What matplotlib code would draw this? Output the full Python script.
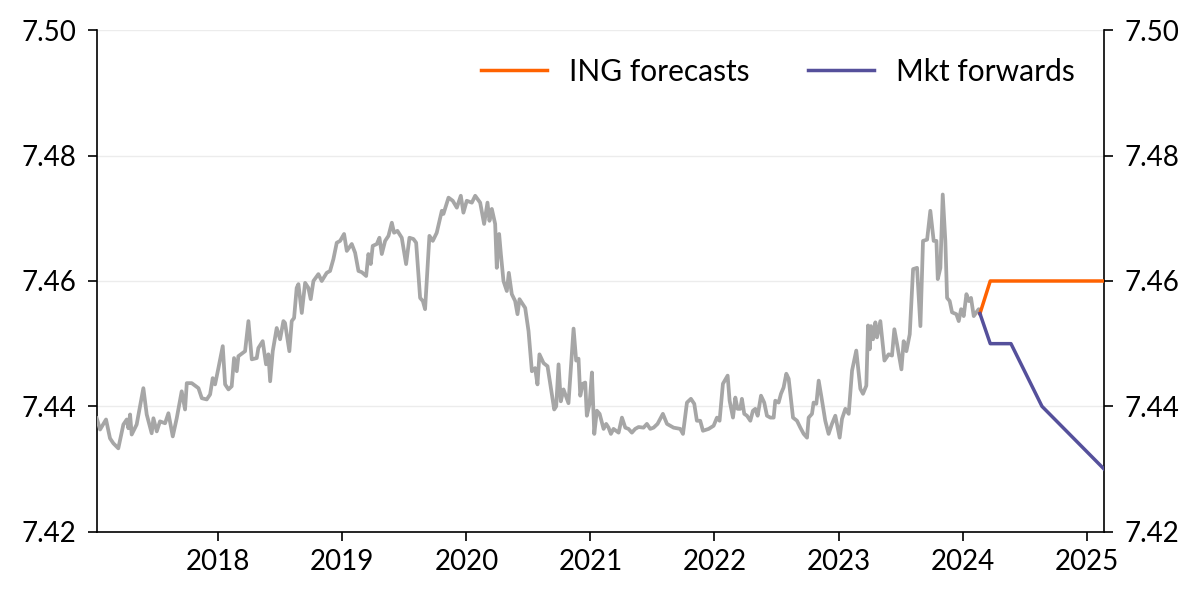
import numpy as np
import matplotlib.pyplot as plt

plt.rcParams['font.family'] = ['Lato', 'DejaVu Sans']

# EUR/DKK spot history (decimal years, weekly-ish readings)
hist_dates = [
    2017.020, 2017.047, 2017.095, 2017.127, 2017.154, 2017.194, 2017.235, 2017.262, 2017.275, 2017.289,
    2017.302, 2017.342, 2017.396, 2017.423, 2017.463, 2017.477, 2017.504, 2017.530, 2017.571, 2017.598,
    2017.633, 2017.665, 2017.705, 2017.732, 2017.746, 2017.786, 2017.840, 2017.867, 2017.907, 2017.934,
    2017.955, 2017.974, 2018.001, 2018.036, 2018.055, 2018.082, 2018.108, 2018.127, 2018.149, 2018.162,
    2018.216, 2018.243, 2018.270, 2018.310, 2018.323, 2018.358, 2018.385, 2018.404, 2018.418, 2018.439,
    2018.471, 2018.498, 2018.525, 2018.538, 2018.573, 2018.592, 2018.611, 2018.632, 2018.646, 2018.673,
    2018.700, 2018.726, 2018.745, 2018.767, 2018.807, 2018.834, 2018.874, 2018.901, 2018.928, 2018.955,
    2018.982, 2019.014, 2019.036, 2019.076, 2019.103, 2019.130, 2019.157, 2019.192, 2019.210, 2019.229,
    2019.245, 2019.278, 2019.299, 2019.318, 2019.345, 2019.372, 2019.399, 2019.417, 2019.444, 2019.479,
    2019.514, 2019.541, 2019.573, 2019.595, 2019.627, 2019.649, 2019.667, 2019.702, 2019.729, 2019.761,
    2019.802, 2019.815, 2019.856, 2019.890, 2019.923, 2019.955, 2019.976, 2020.003, 2020.044, 2020.071,
    2020.111, 2020.143, 2020.170, 2020.186, 2020.205, 2020.232, 2020.245, 2020.264, 2020.278, 2020.299,
    2020.326, 2020.342, 2020.366, 2020.393, 2020.412, 2020.428, 2020.474, 2020.501, 2020.528, 2020.554,
    2020.573, 2020.589, 2020.622, 2020.654, 2020.681, 2020.708, 2020.724, 2020.743, 2020.761, 2020.783,
    2020.823, 2020.864, 2020.885, 2020.904, 2020.918, 2020.939, 2020.958, 2020.971, 2020.993, 2021.012,
    2021.031, 2021.052, 2021.074, 2021.106, 2021.127, 2021.146, 2021.165, 2021.186, 2021.227, 2021.254,
    2021.281, 2021.307, 2021.334, 2021.361, 2021.388, 2021.428, 2021.455, 2021.482, 2021.509, 2021.541,
    2021.584, 2021.617, 2021.670, 2021.724, 2021.746, 2021.778, 2021.810, 2021.837, 2021.858, 2021.885,
    2021.907, 2021.953, 2021.993, 2022.020, 2022.041, 2022.068, 2022.106, 2022.122, 2022.149, 2022.168,
    2022.186, 2022.208, 2022.221, 2022.240, 2022.262, 2022.289, 2022.310, 2022.329, 2022.348, 2022.375,
    2022.401, 2022.423, 2022.450, 2022.477, 2022.490, 2022.517, 2022.536, 2022.557, 2022.579, 2022.598,
    2022.633, 2022.665, 2022.692, 2022.719, 2022.746, 2022.759, 2022.786, 2022.799, 2022.821, 2022.840,
    2022.867, 2022.893, 2022.920, 2022.947, 2022.974, 2023.009, 2023.028, 2023.055, 2023.082, 2023.109,
    2023.143, 2023.176, 2023.197, 2023.224, 2023.238, 2023.251, 2023.262, 2023.278, 2023.297, 2023.310,
    2023.337, 2023.370, 2023.404, 2023.431, 2023.450, 2023.472, 2023.507, 2023.525, 2023.547, 2023.574,
    2023.601, 2023.633, 2023.660, 2023.681, 2023.714, 2023.740, 2023.767, 2023.789, 2023.800, 2023.821,
    2023.840, 2023.861, 2023.875, 2023.896, 2023.915, 2023.950, 2023.969, 2023.988, 2024.009, 2024.031,
    2024.050, 2024.068, 2024.090, 2024.111, 2024.130, 2024.140,
]
hist_values = [
    7.4381, 7.4363, 7.4379, 7.4349, 7.4341, 7.4333, 7.4371, 7.4379, 7.4365, 7.4387,
    7.4355, 7.4371, 7.4429, 7.4387, 7.4357, 7.4381, 7.4360, 7.4376, 7.4373, 7.4389,
    7.4352, 7.4381, 7.4424, 7.4395, 7.4437, 7.4437, 7.4429, 7.4413, 7.4411, 7.4419,
    7.4445, 7.4435, 7.4461, 7.4496, 7.4435, 7.4427, 7.4432, 7.4477, 7.4456, 7.4480,
    7.4488, 7.4536, 7.4475, 7.4477, 7.4493, 7.4504, 7.4467, 7.4483, 7.4440, 7.4488,
    7.4525, 7.4507, 7.4536, 7.4533, 7.4488, 7.4536, 7.4541, 7.4589, 7.4595, 7.4549,
    7.4597, 7.4589, 7.4571, 7.4600, 7.4611, 7.4600, 7.4613, 7.4616, 7.4635, 7.4661,
    7.4664, 7.4675, 7.4648, 7.4659, 7.4645, 7.4616, 7.4614, 7.4608, 7.4643, 7.4627,
    7.4656, 7.4659, 7.4669, 7.4643, 7.4664, 7.4672, 7.4693, 7.4677, 7.4680, 7.4669,
    7.4627, 7.4669, 7.4667, 7.4661, 7.4573, 7.4568, 7.4555, 7.4672, 7.4664, 7.4677,
    7.4712, 7.4707, 7.4733, 7.4728, 7.4717, 7.4736, 7.4709, 7.4728, 7.4725, 7.4736,
    7.4725, 7.4691, 7.4725, 7.4696, 7.4715, 7.4691, 7.4621, 7.4675, 7.4643, 7.4600,
    7.4584, 7.4613, 7.4579, 7.4568, 7.4547, 7.4571, 7.4557, 7.4520, 7.4456, 7.4461,
    7.4435, 7.4483, 7.4469, 7.4464, 7.4429, 7.4395, 7.4400, 7.4467, 7.4408, 7.4427,
    7.4405, 7.4524, 7.4473, 7.4476, 7.4417, 7.4436, 7.4438, 7.4385, 7.4404, 7.4454,
    7.4356, 7.4393, 7.4388, 7.4364, 7.4372, 7.4366, 7.4356, 7.4364, 7.4358, 7.4382,
    7.4366, 7.4364, 7.4358, 7.4364, 7.4367, 7.4366, 7.4372, 7.4364, 7.4366, 7.4372,
    7.4388, 7.4372, 7.4366, 7.4364, 7.4356, 7.4406, 7.4412, 7.4404, 7.4377, 7.4377,
    7.4361, 7.4364, 7.4369, 7.4382, 7.4377, 7.4436, 7.4449, 7.4409, 7.4382, 7.4414,
    7.4396, 7.4396, 7.4412, 7.4388, 7.4385, 7.4377, 7.4393, 7.4396, 7.4385, 7.4417,
    7.4406, 7.4385, 7.4382, 7.4382, 7.4409, 7.4406, 7.4420, 7.4430, 7.4452, 7.4444,
    7.4382, 7.4377, 7.4366, 7.4356, 7.4350, 7.4382, 7.4388, 7.4406, 7.4404, 7.4441,
    7.4409, 7.4377, 7.4356, 7.4372, 7.4385, 7.4350, 7.4380, 7.4396, 7.4388, 7.4457,
    7.4489, 7.4428, 7.4420, 7.4433, 7.4529, 7.4491, 7.4528, 7.4507, 7.4534, 7.4510,
    7.4536, 7.4473, 7.4483, 7.4481, 7.4523, 7.4499, 7.4459, 7.4504, 7.4488, 7.4515,
    7.4619, 7.4621, 7.4528, 7.4664, 7.4666, 7.4712, 7.4664, 7.4664, 7.4603, 7.4621,
    7.4738, 7.4664, 7.4573, 7.4568, 7.4550, 7.4547, 7.4536, 7.4555, 7.4544, 7.4579,
    7.4568, 7.4573, 7.4544, 7.4550, 7.4555, 7.4548,
]

# spot, 1M, 3M, 6M, 12M
fc_dates = [2024.140, 2024.223, 2024.390, 2024.640, 2025.140]
ing_forecast = [7.4548, 7.46, 7.46, 7.46, 7.46]
mkt_forward = [7.4548, 7.45, 7.45, 7.44, 7.43]

year_ticks = [2018, 2019, 2020, 2021, 2022, 2023, 2024, 2025]
y_ticks = [7.42, 7.44, 7.46, 7.48, 7.50]

fig = plt.figure(figsize=(12, 5.99), dpi=100)
ax = fig.add_axes([0.0806, 0.1124, 0.8394, 0.837])

ax.plot(hist_dates, hist_values, color='#a6a6a6', lw=2.7, solid_joinstyle='round', zorder=3)
ax.plot(fc_dates, ing_forecast, color='#ff6200', lw=2.5, label='ING forecasts', zorder=4)
ax.plot(fc_dates, mkt_forward, color='#55509b', lw=2.5, label='Mkt forwards', zorder=4)

ax.set_xlim(2017.02, 2025.14)
ax.set_ylim(7.42, 7.50)
ax.set_xticks(year_ticks)
ax.set_xticklabels([str(y) for y in year_ticks])
ax.set_yticks(y_ticks)
ax.set_yticklabels([f'{v:.2f}' for v in y_ticks])

ax.grid(axis='y', color='#ececec', lw=1.0, zorder=0)
ax.spines['top'].set_visible(False)
for s in ['left', 'right', 'bottom']:
    ax.spines[s].set_linewidth(1.2)
    ax.spines[s].set_color('black')

ax.tick_params(axis='both', direction='out', length=6.5, width=1.2, labelsize=20, colors='black')
ax.tick_params(axis='y', right=True, labelright=True, pad=8)
ax.tick_params(axis='x', pad=6)

ax.legend(loc='center right', bbox_to_anchor=(0.971, 0.917), ncol=2, frameon=False,
          fontsize=21.5, handlelength=2.2, handletextpad=0.75, columnspacing=1.95,
          borderpad=0, borderaxespad=0)

fig.savefig('out.png', dpi=100)
